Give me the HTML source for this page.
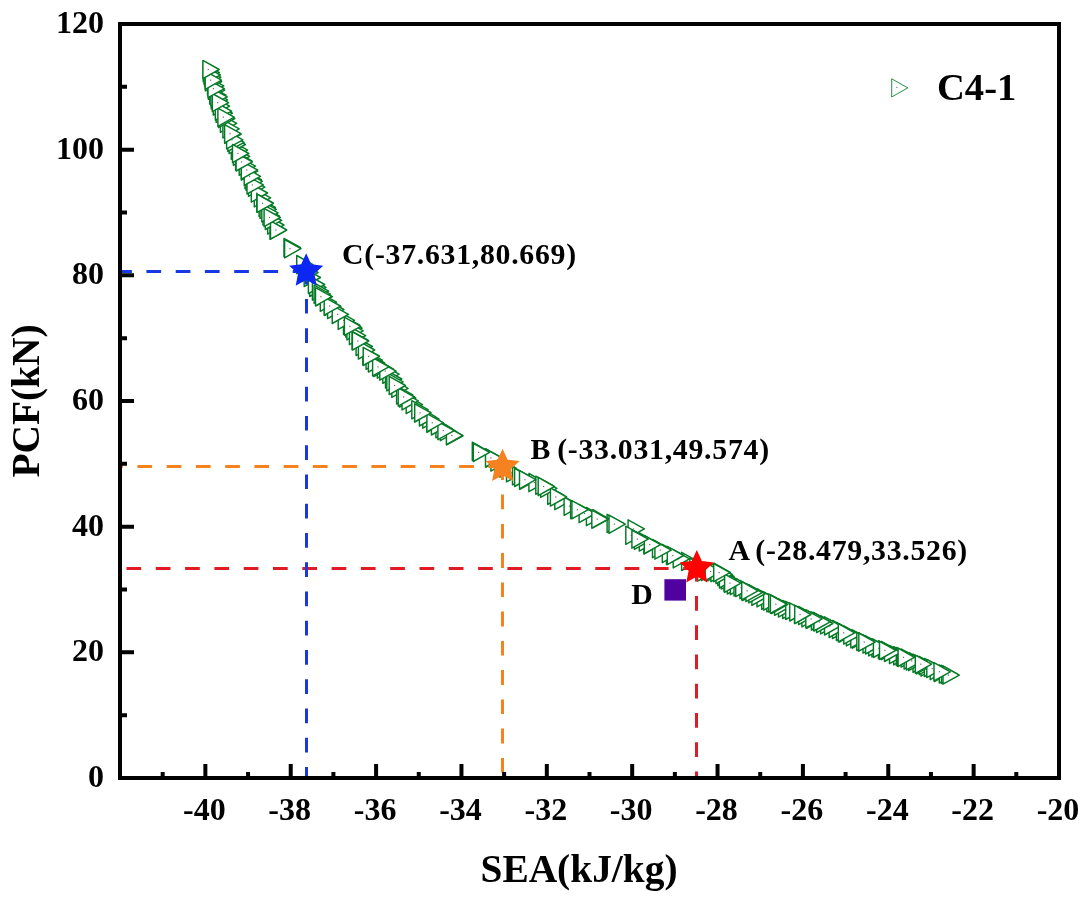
<!DOCTYPE html>
<html><head><meta charset="utf-8"><title>Pareto front C4-1</title>
<style>
html,body{margin:0;padding:0;background:#fff;}
body{width:1087px;height:900px;overflow:hidden;}
svg{display:block;opacity:0.999;will-change:transform;}
text{font-family:"Liberation Serif",serif;font-weight:bold;fill:#000;}
.t{font-size:32px;}
.a{font-size:39.4px;}
.l{font-size:29.8px;letter-spacing:0.72px;word-spacing:-2px;}
</style></head><body>
<svg width="1087" height="900" viewBox="0 0 1087 900">
<rect width="1087" height="900" fill="#fff"/>
<g fill="#fff" stroke="#057a26" stroke-width="1.45" stroke-linejoin="round"><path d="M248.5 178.1L264.8 187.2L248.5 196.3Z"/><rect x="253.3" y="186.6" width="1.2" height="1.2" fill="#6b6b6b" stroke="none"/><path d="M366.1 351.1L382.4 360.2L366.1 369.3Z"/><rect x="370.9" y="359.6" width="1.2" height="1.2" fill="#6b6b6b" stroke="none"/><path d="M263.0 206.9L279.3 216.0L263.0 225.1Z"/><rect x="267.8" y="215.4" width="1.2" height="1.2" fill="#6b6b6b" stroke="none"/><path d="M259.1 198.2L275.4 207.3L259.1 216.4Z"/><rect x="263.9" y="206.7" width="1.2" height="1.2" fill="#6b6b6b" stroke="none"/><path d="M727.3 575.8L743.6 584.9L727.3 594.0Z"/><rect x="732.1" y="584.3" width="1.2" height="1.2" fill="#6b6b6b" stroke="none"/><path d="M893.7 646.7L910.0 655.8L893.7 664.9Z"/><rect x="898.5" y="655.2" width="1.2" height="1.2" fill="#6b6b6b" stroke="none"/><path d="M391.8 379.2L408.1 388.3L391.8 397.4Z"/><rect x="396.6" y="387.7" width="1.2" height="1.2" fill="#6b6b6b" stroke="none"/><path d="M519.8 471.2L536.1 480.3L519.8 489.4Z"/><rect x="524.6" y="479.7" width="1.2" height="1.2" fill="#6b6b6b" stroke="none"/><path d="M889.5 645.5L905.8 654.6L889.5 663.7Z"/><rect x="894.3" y="654.0" width="1.2" height="1.2" fill="#6b6b6b" stroke="none"/><path d="M499.9 459.0L516.2 468.1L499.9 477.2Z"/><rect x="504.7" y="467.5" width="1.2" height="1.2" fill="#6b6b6b" stroke="none"/><path d="M309.7 278.3L326.0 287.4L309.7 296.5Z"/><rect x="314.5" y="286.8" width="1.2" height="1.2" fill="#6b6b6b" stroke="none"/><path d="M368.4 353.9L384.7 363.0L368.4 372.1Z"/><rect x="373.2" y="362.4" width="1.2" height="1.2" fill="#6b6b6b" stroke="none"/><path d="M472.3 442.2L488.6 451.3L472.3 460.4Z"/><rect x="477.1" y="450.7" width="1.2" height="1.2" fill="#6b6b6b" stroke="none"/><path d="M628.1 519.8L644.4 528.9L628.1 538.0Z"/><rect x="632.9" y="528.3" width="1.2" height="1.2" fill="#6b6b6b" stroke="none"/><path d="M913.0 654.1L929.3 663.2L913.0 672.3Z"/><rect x="917.8" y="662.6" width="1.2" height="1.2" fill="#6b6b6b" stroke="none"/><path d="M506.5 463.7L522.8 472.8L506.5 481.9Z"/><rect x="511.3" y="472.2" width="1.2" height="1.2" fill="#6b6b6b" stroke="none"/><path d="M863.0 634.9L879.3 644.0L863.0 653.1Z"/><rect x="867.8" y="643.4" width="1.2" height="1.2" fill="#6b6b6b" stroke="none"/><path d="M528.9 473.5L545.2 482.6L528.9 491.7Z"/><rect x="533.7" y="482.0" width="1.2" height="1.2" fill="#6b6b6b" stroke="none"/><path d="M324.5 297.3L340.8 306.4L324.5 315.5Z"/><rect x="329.3" y="305.8" width="1.2" height="1.2" fill="#6b6b6b" stroke="none"/><path d="M643.9 535.8L660.2 544.9L643.9 554.0Z"/><rect x="648.7" y="544.3" width="1.2" height="1.2" fill="#6b6b6b" stroke="none"/><path d="M260.0 200.2L276.3 209.3L260.0 218.4Z"/><rect x="264.8" y="208.7" width="1.2" height="1.2" fill="#6b6b6b" stroke="none"/><path d="M547.7 486.2L564.0 495.3L547.7 504.4Z"/><rect x="552.5" y="494.7" width="1.2" height="1.2" fill="#6b6b6b" stroke="none"/><path d="M382.8 365.1L399.1 374.2L382.8 383.3Z"/><rect x="387.6" y="373.6" width="1.2" height="1.2" fill="#6b6b6b" stroke="none"/><path d="M896.3 647.4L912.6 656.5L896.3 665.6Z"/><rect x="901.1" y="655.9" width="1.2" height="1.2" fill="#6b6b6b" stroke="none"/><path d="M881.4 641.5L897.7 650.6L881.4 659.7Z"/><rect x="886.2" y="650.0" width="1.2" height="1.2" fill="#6b6b6b" stroke="none"/><path d="M554.8 491.5L571.1 500.6L554.8 509.7Z"/><rect x="559.6" y="500.0" width="1.2" height="1.2" fill="#6b6b6b" stroke="none"/><path d="M233.4 147.2L249.7 156.3L233.4 165.4Z"/><rect x="238.2" y="155.7" width="1.2" height="1.2" fill="#6b6b6b" stroke="none"/><path d="M782.7 600.4L799.0 609.5L782.7 618.6Z"/><rect x="787.5" y="608.9" width="1.2" height="1.2" fill="#6b6b6b" stroke="none"/><path d="M652.5 539.5L668.8 548.6L652.5 557.7Z"/><rect x="657.3" y="548.0" width="1.2" height="1.2" fill="#6b6b6b" stroke="none"/><path d="M512.5 466.7L528.8 475.8L512.5 484.9Z"/><rect x="517.3" y="475.2" width="1.2" height="1.2" fill="#6b6b6b" stroke="none"/><path d="M304.2 268.4L320.5 277.5L304.2 286.6Z"/><rect x="309.0" y="276.9" width="1.2" height="1.2" fill="#6b6b6b" stroke="none"/><path d="M878.4 640.6L894.7 649.7L878.4 658.8Z"/><rect x="883.2" y="649.1" width="1.2" height="1.2" fill="#6b6b6b" stroke="none"/><path d="M422.8 410.0L439.1 419.1L422.8 428.2Z"/><rect x="427.6" y="418.5" width="1.2" height="1.2" fill="#6b6b6b" stroke="none"/><path d="M231.3 141.1L247.6 150.2L231.3 159.3Z"/><rect x="236.1" y="149.6" width="1.2" height="1.2" fill="#6b6b6b" stroke="none"/><path d="M681.6 552.3L697.9 561.4L681.6 570.5Z"/><rect x="686.4" y="560.8" width="1.2" height="1.2" fill="#6b6b6b" stroke="none"/><path d="M625.8 526.2L642.1 535.3L625.8 544.4Z"/><rect x="630.6" y="534.7" width="1.2" height="1.2" fill="#6b6b6b" stroke="none"/><path d="M343.5 316.1L359.8 325.2L343.5 334.3Z"/><rect x="348.3" y="324.6" width="1.2" height="1.2" fill="#6b6b6b" stroke="none"/><path d="M298.6 258.6L314.9 267.7L298.6 276.8Z"/><rect x="303.4" y="267.1" width="1.2" height="1.2" fill="#6b6b6b" stroke="none"/><path d="M901.1 649.0L917.4 658.1L901.1 667.2Z"/><rect x="905.9" y="657.5" width="1.2" height="1.2" fill="#6b6b6b" stroke="none"/><path d="M254.3 188.7L270.6 197.8L254.3 206.9Z"/><rect x="259.1" y="197.2" width="1.2" height="1.2" fill="#6b6b6b" stroke="none"/><path d="M385.5 369.9L401.8 379.0L385.5 388.1Z"/><rect x="390.3" y="378.4" width="1.2" height="1.2" fill="#6b6b6b" stroke="none"/><path d="M211.2 90.8L227.5 99.9L211.2 109.0Z"/><rect x="216.0" y="99.3" width="1.2" height="1.2" fill="#6b6b6b" stroke="none"/><path d="M251.3 183.9L267.6 193.0L251.3 202.1Z"/><rect x="256.1" y="192.4" width="1.2" height="1.2" fill="#6b6b6b" stroke="none"/><path d="M540.6 479.2L556.9 488.3L540.6 497.4Z"/><rect x="545.4" y="487.7" width="1.2" height="1.2" fill="#6b6b6b" stroke="none"/><path d="M308.4 275.4L324.7 284.5L308.4 293.6Z"/><rect x="313.2" y="283.9" width="1.2" height="1.2" fill="#6b6b6b" stroke="none"/><path d="M386.8 372.7L403.1 381.8L386.8 390.9Z"/><rect x="391.6" y="381.2" width="1.2" height="1.2" fill="#6b6b6b" stroke="none"/><path d="M673.2 549.7L689.5 558.8L673.2 567.9Z"/><rect x="678.0" y="558.2" width="1.2" height="1.2" fill="#6b6b6b" stroke="none"/><path d="M871.9 638.7L888.2 647.8L871.9 656.9Z"/><rect x="876.7" y="647.2" width="1.2" height="1.2" fill="#6b6b6b" stroke="none"/><path d="M739.9 580.5L756.2 589.6L739.9 598.7Z"/><rect x="744.7" y="589.0" width="1.2" height="1.2" fill="#6b6b6b" stroke="none"/><path d="M868.7 637.7L885.0 646.8L868.7 655.9Z"/><rect x="873.5" y="646.2" width="1.2" height="1.2" fill="#6b6b6b" stroke="none"/><path d="M267.7 215.9L284.0 225.0L267.7 234.1Z"/><rect x="272.5" y="224.4" width="1.2" height="1.2" fill="#6b6b6b" stroke="none"/><path d="M220.4 114.2L236.7 123.3L220.4 132.4Z"/><rect x="225.2" y="122.7" width="1.2" height="1.2" fill="#6b6b6b" stroke="none"/><path d="M377.3 360.0L393.6 369.1L377.3 378.2Z"/><rect x="382.1" y="368.5" width="1.2" height="1.2" fill="#6b6b6b" stroke="none"/><path d="M338.2 311.2L354.5 320.3L338.2 329.4Z"/><rect x="343.0" y="319.7" width="1.2" height="1.2" fill="#6b6b6b" stroke="none"/><path d="M207.5 76.8L223.8 85.9L207.5 95.0Z"/><rect x="212.3" y="85.3" width="1.2" height="1.2" fill="#6b6b6b" stroke="none"/><path d="M440.3 422.5L456.6 431.6L440.3 440.7Z"/><rect x="445.1" y="431.0" width="1.2" height="1.2" fill="#6b6b6b" stroke="none"/><path d="M839.4 623.8L855.7 632.9L839.4 642.0Z"/><rect x="844.2" y="632.3" width="1.2" height="1.2" fill="#6b6b6b" stroke="none"/><path d="M414.6 403.6L430.9 412.7L414.6 421.8Z"/><rect x="419.4" y="412.1" width="1.2" height="1.2" fill="#6b6b6b" stroke="none"/><path d="M778.5 598.9L794.8 608.0L778.5 617.1Z"/><rect x="783.3" y="607.4" width="1.2" height="1.2" fill="#6b6b6b" stroke="none"/><path d="M766.8 593.6L783.1 602.7L766.8 611.8Z"/><rect x="771.6" y="602.1" width="1.2" height="1.2" fill="#6b6b6b" stroke="none"/><path d="M426.9 414.1L443.2 423.2L426.9 432.3Z"/><rect x="431.7" y="422.6" width="1.2" height="1.2" fill="#6b6b6b" stroke="none"/><path d="M742.5 582.4L758.8 591.5L742.5 600.6Z"/><rect x="747.3" y="590.9" width="1.2" height="1.2" fill="#6b6b6b" stroke="none"/><path d="M435.9 419.6L452.2 428.7L435.9 437.8Z"/><rect x="440.7" y="428.1" width="1.2" height="1.2" fill="#6b6b6b" stroke="none"/><path d="M345.8 319.0L362.1 328.1L345.8 337.2Z"/><rect x="350.6" y="327.5" width="1.2" height="1.2" fill="#6b6b6b" stroke="none"/><path d="M806.7 610.1L823.0 619.2L806.7 628.3Z"/><rect x="811.5" y="618.6" width="1.2" height="1.2" fill="#6b6b6b" stroke="none"/><path d="M229.1 135.4L245.4 144.5L229.1 153.6Z"/><rect x="233.9" y="143.9" width="1.2" height="1.2" fill="#6b6b6b" stroke="none"/><path d="M208.4 81.1L224.7 90.2L208.4 99.3Z"/><rect x="213.2" y="89.6" width="1.2" height="1.2" fill="#6b6b6b" stroke="none"/><path d="M535.8 476.1L552.1 485.2L535.8 494.3Z"/><rect x="540.6" y="484.6" width="1.2" height="1.2" fill="#6b6b6b" stroke="none"/><path d="M904.1 651.0L920.4 660.1L904.1 669.2Z"/><rect x="908.9" y="659.5" width="1.2" height="1.2" fill="#6b6b6b" stroke="none"/><path d="M897.5 648.1L913.8 657.2L897.5 666.3Z"/><rect x="902.3" y="656.6" width="1.2" height="1.2" fill="#6b6b6b" stroke="none"/><path d="M717.8 567.4L734.1 576.5L717.8 585.6Z"/><rect x="722.6" y="575.9" width="1.2" height="1.2" fill="#6b6b6b" stroke="none"/><path d="M730.4 576.5L746.7 585.6L730.4 594.7Z"/><rect x="735.2" y="585.0" width="1.2" height="1.2" fill="#6b6b6b" stroke="none"/><path d="M270.0 221.1L286.3 230.2L270.0 239.3Z"/><rect x="274.8" y="229.6" width="1.2" height="1.2" fill="#6b6b6b" stroke="none"/><path d="M639.3 532.9L655.6 542.0L639.3 551.1Z"/><rect x="644.1" y="541.4" width="1.2" height="1.2" fill="#6b6b6b" stroke="none"/><path d="M734.0 577.8L750.3 586.9L734.0 596.0Z"/><rect x="738.8" y="586.3" width="1.2" height="1.2" fill="#6b6b6b" stroke="none"/><path d="M921.0 658.0L937.3 667.1L921.0 676.2Z"/><rect x="925.8" y="666.5" width="1.2" height="1.2" fill="#6b6b6b" stroke="none"/><path d="M666.5 546.4L682.8 555.5L666.5 564.6Z"/><rect x="671.3" y="554.9" width="1.2" height="1.2" fill="#6b6b6b" stroke="none"/><path d="M696.3 561.7L712.6 570.8L696.3 579.9Z"/><rect x="701.1" y="570.2" width="1.2" height="1.2" fill="#6b6b6b" stroke="none"/><path d="M222.9 119.7L239.2 128.8L222.9 137.9Z"/><rect x="227.7" y="128.2" width="1.2" height="1.2" fill="#6b6b6b" stroke="none"/><path d="M316.0 287.6L332.3 296.7L316.0 305.8Z"/><rect x="320.8" y="296.1" width="1.2" height="1.2" fill="#6b6b6b" stroke="none"/><path d="M884.5 643.3L900.8 652.4L884.5 661.5Z"/><rect x="889.3" y="651.8" width="1.2" height="1.2" fill="#6b6b6b" stroke="none"/><path d="M919.2 656.5L935.5 665.6L919.2 674.7Z"/><rect x="924.0" y="665.0" width="1.2" height="1.2" fill="#6b6b6b" stroke="none"/><path d="M485.9 448.9L502.2 458.0L485.9 467.1Z"/><rect x="490.7" y="457.4" width="1.2" height="1.2" fill="#6b6b6b" stroke="none"/><path d="M774.6 597.2L790.9 606.3L774.6 615.4Z"/><rect x="779.4" y="605.7" width="1.2" height="1.2" fill="#6b6b6b" stroke="none"/><path d="M346.9 321.7L363.2 330.8L346.9 339.9Z"/><rect x="351.7" y="330.2" width="1.2" height="1.2" fill="#6b6b6b" stroke="none"/><path d="M908.7 652.5L925.0 661.6L908.7 670.7Z"/><rect x="913.5" y="661.0" width="1.2" height="1.2" fill="#6b6b6b" stroke="none"/><path d="M785.7 601.3L802.0 610.4L785.7 619.5Z"/><rect x="790.5" y="609.8" width="1.2" height="1.2" fill="#6b6b6b" stroke="none"/><path d="M724.0 573.4L740.3 582.5L724.0 591.6Z"/><rect x="728.8" y="581.9" width="1.2" height="1.2" fill="#6b6b6b" stroke="none"/><path d="M239.2 157.1L255.5 166.2L239.2 175.3Z"/><rect x="244.0" y="165.6" width="1.2" height="1.2" fill="#6b6b6b" stroke="none"/><path d="M362.8 346.8L379.1 355.9L362.8 365.0Z"/><rect x="367.6" y="355.3" width="1.2" height="1.2" fill="#6b6b6b" stroke="none"/><path d="M811.4 612.0L827.7 621.1L811.4 630.2Z"/><rect x="816.2" y="620.5" width="1.2" height="1.2" fill="#6b6b6b" stroke="none"/><path d="M761.7 591.1L778.0 600.2L761.7 609.3Z"/><rect x="766.5" y="599.6" width="1.2" height="1.2" fill="#6b6b6b" stroke="none"/><path d="M586.4 507.5L602.7 516.6L586.4 525.7Z"/><rect x="591.2" y="516.0" width="1.2" height="1.2" fill="#6b6b6b" stroke="none"/><path d="M218.5 109.4L234.8 118.5L218.5 127.6Z"/><rect x="223.3" y="117.9" width="1.2" height="1.2" fill="#6b6b6b" stroke="none"/><path d="M906.3 651.8L922.6 660.9L906.3 670.0Z"/><rect x="911.1" y="660.3" width="1.2" height="1.2" fill="#6b6b6b" stroke="none"/><path d="M256.8 193.9L273.1 203.0L256.8 212.1Z"/><rect x="261.6" y="202.4" width="1.2" height="1.2" fill="#6b6b6b" stroke="none"/><path d="M801.9 608.7L818.2 617.8L801.9 626.9Z"/><rect x="806.7" y="617.2" width="1.2" height="1.2" fill="#6b6b6b" stroke="none"/><path d="M852.5 630.0L868.8 639.1L852.5 648.2Z"/><rect x="857.3" y="638.5" width="1.2" height="1.2" fill="#6b6b6b" stroke="none"/><path d="M564.1 497.1L580.4 506.2L564.1 515.3Z"/><rect x="568.9" y="505.6" width="1.2" height="1.2" fill="#6b6b6b" stroke="none"/><path d="M327.6 300.4L343.9 309.5L327.6 318.6Z"/><rect x="332.4" y="308.9" width="1.2" height="1.2" fill="#6b6b6b" stroke="none"/><path d="M798.6 606.4L814.9 615.5L798.6 624.6Z"/><rect x="803.4" y="614.9" width="1.2" height="1.2" fill="#6b6b6b" stroke="none"/><path d="M300.6 261.1L316.9 270.2L300.6 279.3Z"/><rect x="305.4" y="269.6" width="1.2" height="1.2" fill="#6b6b6b" stroke="none"/><path d="M284.0 238.4L300.3 247.5L284.0 256.6Z"/><rect x="288.8" y="246.9" width="1.2" height="1.2" fill="#6b6b6b" stroke="none"/><path d="M216.1 104.1L232.4 113.2L216.1 122.3Z"/><rect x="220.9" y="112.6" width="1.2" height="1.2" fill="#6b6b6b" stroke="none"/><path d="M301.8 263.4L318.1 272.5L301.8 281.6Z"/><rect x="306.6" y="271.9" width="1.2" height="1.2" fill="#6b6b6b" stroke="none"/><path d="M261.8 203.8L278.1 212.9L261.8 222.0Z"/><rect x="266.6" y="212.3" width="1.2" height="1.2" fill="#6b6b6b" stroke="none"/><path d="M490.9 452.9L507.2 462.0L490.9 471.1Z"/><rect x="495.7" y="461.4" width="1.2" height="1.2" fill="#6b6b6b" stroke="none"/><path d="M579.1 504.4L595.4 513.5L579.1 522.6Z"/><rect x="583.9" y="512.9" width="1.2" height="1.2" fill="#6b6b6b" stroke="none"/><path d="M245.0 170.5L261.3 179.6L245.0 188.7Z"/><rect x="249.8" y="179.0" width="1.2" height="1.2" fill="#6b6b6b" stroke="none"/><path d="M771.6 595.3L787.9 604.4L771.6 613.5Z"/><rect x="776.4" y="603.8" width="1.2" height="1.2" fill="#6b6b6b" stroke="none"/><path d="M399.5 388.9L415.8 398.0L399.5 407.1Z"/><rect x="404.3" y="397.4" width="1.2" height="1.2" fill="#6b6b6b" stroke="none"/><path d="M865.6 635.8L881.9 644.9L865.6 654.0Z"/><rect x="870.4" y="644.3" width="1.2" height="1.2" fill="#6b6b6b" stroke="none"/><path d="M332.2 305.3L348.5 314.4L332.2 323.5Z"/><rect x="337.0" y="313.8" width="1.2" height="1.2" fill="#6b6b6b" stroke="none"/><path d="M934.4 663.3L950.7 672.4L934.4 681.5Z"/><rect x="939.2" y="671.8" width="1.2" height="1.2" fill="#6b6b6b" stroke="none"/><path d="M514.6 468.3L530.9 477.4L514.6 486.5Z"/><rect x="519.4" y="476.8" width="1.2" height="1.2" fill="#6b6b6b" stroke="none"/><path d="M846.4 627.7L862.7 636.8L846.4 645.9Z"/><rect x="851.2" y="636.2" width="1.2" height="1.2" fill="#6b6b6b" stroke="none"/><path d="M356.1 337.4L372.4 346.5L356.1 355.6Z"/><rect x="360.9" y="345.9" width="1.2" height="1.2" fill="#6b6b6b" stroke="none"/><path d="M209.7 86.0L226.0 95.1L209.7 104.2Z"/><rect x="214.5" y="94.5" width="1.2" height="1.2" fill="#6b6b6b" stroke="none"/><path d="M707.6 562.6L723.9 571.7L707.6 580.8Z"/><rect x="712.4" y="571.1" width="1.2" height="1.2" fill="#6b6b6b" stroke="none"/><path d="M832.5 620.4L848.8 629.5L832.5 638.6Z"/><rect x="837.3" y="628.9" width="1.2" height="1.2" fill="#6b6b6b" stroke="none"/><path d="M246.1 172.3L262.4 181.4L246.1 190.5Z"/><rect x="250.9" y="180.8" width="1.2" height="1.2" fill="#6b6b6b" stroke="none"/><path d="M939.3 664.9L955.6 674.0L939.3 683.1Z"/><rect x="944.1" y="673.4" width="1.2" height="1.2" fill="#6b6b6b" stroke="none"/><path d="M203.2 63.5L219.5 72.6L203.2 81.7Z"/><rect x="208.0" y="72.0" width="1.2" height="1.2" fill="#6b6b6b" stroke="none"/><path d="M495.0 455.8L511.3 464.9L495.0 474.0Z"/><rect x="499.8" y="464.3" width="1.2" height="1.2" fill="#6b6b6b" stroke="none"/><path d="M662.3 544.5L678.6 553.6L662.3 562.7Z"/><rect x="667.1" y="553.0" width="1.2" height="1.2" fill="#6b6b6b" stroke="none"/><path d="M204.6 68.2L220.9 77.3L204.6 86.4Z"/><rect x="209.4" y="76.7" width="1.2" height="1.2" fill="#6b6b6b" stroke="none"/><path d="M721.3 570.9L737.6 580.0L721.3 589.1Z"/><rect x="726.1" y="579.4" width="1.2" height="1.2" fill="#6b6b6b" stroke="none"/><path d="M757.0 588.7L773.3 597.8L757.0 606.9Z"/><rect x="761.8" y="597.2" width="1.2" height="1.2" fill="#6b6b6b" stroke="none"/><path d="M570.6 500.5L586.9 509.6L570.6 518.7Z"/><rect x="575.4" y="509.0" width="1.2" height="1.2" fill="#6b6b6b" stroke="none"/><path d="M406.2 395.5L422.5 404.6L406.2 413.7Z"/><rect x="411.0" y="404.0" width="1.2" height="1.2" fill="#6b6b6b" stroke="none"/><path d="M813.5 612.3L829.8 621.4L813.5 630.5Z"/><rect x="818.3" y="620.8" width="1.2" height="1.2" fill="#6b6b6b" stroke="none"/><path d="M607.1 514.3L623.4 523.4L607.1 532.5Z"/><rect x="611.9" y="522.8" width="1.2" height="1.2" fill="#6b6b6b" stroke="none"/><path d="M247.0 175.8L263.3 184.9L247.0 194.0Z"/><rect x="251.8" y="184.3" width="1.2" height="1.2" fill="#6b6b6b" stroke="none"/><path d="M227.8 133.3L244.1 142.4L227.8 151.5Z"/><rect x="232.6" y="141.8" width="1.2" height="1.2" fill="#6b6b6b" stroke="none"/><path d="M836.4 622.4L852.7 631.5L836.4 640.6Z"/><rect x="841.2" y="630.9" width="1.2" height="1.2" fill="#6b6b6b" stroke="none"/><path d="M402.0 391.7L418.3 400.8L402.0 409.9Z"/><rect x="406.8" y="400.2" width="1.2" height="1.2" fill="#6b6b6b" stroke="none"/><path d="M924.4 658.4L940.7 667.5L924.4 676.6Z"/><rect x="929.2" y="666.9" width="1.2" height="1.2" fill="#6b6b6b" stroke="none"/><path d="M349.4 326.5L365.7 335.6L349.4 344.7Z"/><rect x="354.2" y="335.0" width="1.2" height="1.2" fill="#6b6b6b" stroke="none"/><path d="M431.4 416.8L447.7 425.9L431.4 435.0Z"/><rect x="436.2" y="425.3" width="1.2" height="1.2" fill="#6b6b6b" stroke="none"/><path d="M373.8 358.4L390.1 367.5L373.8 376.6Z"/><rect x="378.6" y="366.9" width="1.2" height="1.2" fill="#6b6b6b" stroke="none"/><path d="M794.5 605.3L810.8 614.4L794.5 623.5Z"/><rect x="799.3" y="613.8" width="1.2" height="1.2" fill="#6b6b6b" stroke="none"/><path d="M634.4 531.1L650.7 540.2L634.4 549.3Z"/><rect x="639.2" y="539.6" width="1.2" height="1.2" fill="#6b6b6b" stroke="none"/><path d="M396.6 385.8L412.9 394.9L396.6 404.0Z"/><rect x="401.4" y="394.3" width="1.2" height="1.2" fill="#6b6b6b" stroke="none"/><path d="M710.9 563.5L727.2 572.6L710.9 581.7Z"/><rect x="715.7" y="572.0" width="1.2" height="1.2" fill="#6b6b6b" stroke="none"/><path d="M235.6 151.7L251.9 160.8L235.6 169.9Z"/><rect x="240.4" y="160.2" width="1.2" height="1.2" fill="#6b6b6b" stroke="none"/><path d="M204.0 65.9L220.3 75.0L204.0 84.1Z"/><rect x="208.8" y="74.4" width="1.2" height="1.2" fill="#6b6b6b" stroke="none"/><path d="M735.7 578.4L752.0 587.5L735.7 596.6Z"/><rect x="740.5" y="586.9" width="1.2" height="1.2" fill="#6b6b6b" stroke="none"/><path d="M411.8 400.6L428.1 409.7L411.8 418.8Z"/><rect x="416.6" y="409.1" width="1.2" height="1.2" fill="#6b6b6b" stroke="none"/><path d="M352.1 331.4L368.4 340.5L352.1 349.6Z"/><rect x="356.9" y="339.9" width="1.2" height="1.2" fill="#6b6b6b" stroke="none"/><path d="M751.9 587.2L768.2 596.3L751.9 605.4Z"/><rect x="756.7" y="595.7" width="1.2" height="1.2" fill="#6b6b6b" stroke="none"/><path d="M320.3 293.1L336.6 302.2L320.3 311.3Z"/><rect x="325.1" y="301.6" width="1.2" height="1.2" fill="#6b6b6b" stroke="none"/><path d="M820.6 615.7L836.9 624.8L820.6 633.9Z"/><rect x="825.4" y="624.2" width="1.2" height="1.2" fill="#6b6b6b" stroke="none"/><path d="M689.8 558.0L706.1 567.1L689.8 576.2Z"/><rect x="694.6" y="566.5" width="1.2" height="1.2" fill="#6b6b6b" stroke="none"/><path d="M446.7 426.7L463.0 435.8L446.7 444.9Z"/><rect x="451.5" y="435.2" width="1.2" height="1.2" fill="#6b6b6b" stroke="none"/><path d="M714.0 563.2L730.3 572.3L714.0 581.4Z"/><rect x="718.8" y="571.7" width="1.2" height="1.2" fill="#6b6b6b" stroke="none"/><path d="M210.9 87.8L227.2 96.9L210.9 106.0Z"/><rect x="215.7" y="96.3" width="1.2" height="1.2" fill="#6b6b6b" stroke="none"/><path d="M829.1 619.3L845.4 628.4L829.1 637.5Z"/><rect x="833.9" y="627.8" width="1.2" height="1.2" fill="#6b6b6b" stroke="none"/><path d="M358.4 340.9L374.7 350.0L358.4 359.1Z"/><rect x="363.2" y="349.4" width="1.2" height="1.2" fill="#6b6b6b" stroke="none"/><path d="M930.2 661.5L946.5 670.6L930.2 679.7Z"/><rect x="935.0" y="670.0" width="1.2" height="1.2" fill="#6b6b6b" stroke="none"/><path d="M213.3 97.0L229.6 106.1L213.3 115.2Z"/><rect x="218.1" y="105.5" width="1.2" height="1.2" fill="#6b6b6b" stroke="none"/><path d="M224.7 125.2L241.0 134.3L224.7 143.4Z"/><rect x="229.5" y="133.7" width="1.2" height="1.2" fill="#6b6b6b" stroke="none"/><path d="M226.6 130.7L242.9 139.8L226.6 148.9Z"/><rect x="231.4" y="139.2" width="1.2" height="1.2" fill="#6b6b6b" stroke="none"/><path d="M763.6 592.0L779.9 601.1L763.6 610.2Z"/><rect x="768.4" y="600.5" width="1.2" height="1.2" fill="#6b6b6b" stroke="none"/><path d="M205.4 72.6L221.7 81.7L205.4 90.8Z"/><rect x="210.2" y="81.1" width="1.2" height="1.2" fill="#6b6b6b" stroke="none"/><path d="M850.8 629.6L867.1 638.7L850.8 647.8Z"/><rect x="855.6" y="638.1" width="1.2" height="1.2" fill="#6b6b6b" stroke="none"/><path d="M296.7 255.5L313.0 264.6L296.7 273.7Z"/><rect x="301.5" y="264.0" width="1.2" height="1.2" fill="#6b6b6b" stroke="none"/><path d="M916.6 655.6L932.9 664.7L916.6 673.8Z"/><rect x="921.4" y="664.1" width="1.2" height="1.2" fill="#6b6b6b" stroke="none"/><path d="M873.4 639.3L889.7 648.4L873.4 657.5Z"/><rect x="878.2" y="647.8" width="1.2" height="1.2" fill="#6b6b6b" stroke="none"/><path d="M941.5 665.3L957.8 674.4L941.5 683.5Z"/><rect x="946.3" y="673.8" width="1.2" height="1.2" fill="#6b6b6b" stroke="none"/><path d="M592.8 509.7L609.1 518.8L592.8 527.9Z"/><rect x="597.6" y="518.2" width="1.2" height="1.2" fill="#6b6b6b" stroke="none"/><path d="M824.5 616.8L840.8 625.9L824.5 635.0Z"/><rect x="829.3" y="625.3" width="1.2" height="1.2" fill="#6b6b6b" stroke="none"/><path d="M215.3 102.0L231.6 111.1L215.3 120.2Z"/><rect x="220.1" y="110.5" width="1.2" height="1.2" fill="#6b6b6b" stroke="none"/><path d="M858.5 632.7L874.8 641.8L858.5 650.9Z"/><rect x="863.3" y="641.2" width="1.2" height="1.2" fill="#6b6b6b" stroke="none"/><path d="M768.7 593.9L785.0 603.0L768.7 612.1Z"/><rect x="773.5" y="602.4" width="1.2" height="1.2" fill="#6b6b6b" stroke="none"/><path d="M241.4 162.0L257.7 171.1L241.4 180.2Z"/><rect x="246.2" y="170.5" width="1.2" height="1.2" fill="#6b6b6b" stroke="none"/><path d="M265.3 211.3L281.6 220.4L265.3 229.5Z"/><rect x="270.1" y="219.8" width="1.2" height="1.2" fill="#6b6b6b" stroke="none"/><path d="M419.4 407.8L435.7 416.9L419.4 426.0Z"/><rect x="424.2" y="416.3" width="1.2" height="1.2" fill="#6b6b6b" stroke="none"/><path d="M701.3 562.3L717.6 571.4L701.3 580.5Z"/><rect x="706.1" y="570.8" width="1.2" height="1.2" fill="#6b6b6b" stroke="none"/><path d="M244.2 167.2L260.5 176.3L244.2 185.4Z"/><rect x="249.0" y="175.7" width="1.2" height="1.2" fill="#6b6b6b" stroke="none"/><path d="M926.8 659.4L943.1 668.5L926.8 677.6Z"/><rect x="931.6" y="667.9" width="1.2" height="1.2" fill="#6b6b6b" stroke="none"/><path d="M843.8 626.0L860.1 635.1L843.8 644.2Z"/><rect x="848.6" y="634.5" width="1.2" height="1.2" fill="#6b6b6b" stroke="none"/><path d="M856.8 632.3L873.1 641.4L856.8 650.5Z"/><rect x="861.6" y="640.8" width="1.2" height="1.2" fill="#6b6b6b" stroke="none"/><path d="M719.4 569.8L735.7 578.9L719.4 588.0Z"/><rect x="724.2" y="578.3" width="1.2" height="1.2" fill="#6b6b6b" stroke="none"/><path d="M748.8 584.7L765.1 593.8L748.8 602.9Z"/><rect x="753.6" y="593.2" width="1.2" height="1.2" fill="#6b6b6b" stroke="none"/><path d="M312.4 282.0L328.7 291.1L312.4 300.2Z"/><rect x="317.2" y="290.5" width="1.2" height="1.2" fill="#6b6b6b" stroke="none"/><path d="M314.1 285.1L330.4 294.2L314.1 303.3Z"/><rect x="318.9" y="293.6" width="1.2" height="1.2" fill="#6b6b6b" stroke="none"/><path d="M816.6 614.4L832.9 623.5L816.6 632.6Z"/><rect x="821.4" y="622.9" width="1.2" height="1.2" fill="#6b6b6b" stroke="none"/><path d="M745.9 583.5L762.2 592.6L745.9 601.7Z"/><rect x="750.7" y="592.0" width="1.2" height="1.2" fill="#6b6b6b" stroke="none"/><path d="M697.6 562.9L713.9 572.0L697.6 581.1Z"/><rect x="702.4" y="571.4" width="1.2" height="1.2" fill="#6b6b6b" stroke="none"/><path d="M716.0 565.4L732.3 574.5L716.0 583.6Z"/><rect x="720.8" y="573.9" width="1.2" height="1.2" fill="#6b6b6b" stroke="none"/><path d="M789.7 602.8L806.0 611.9L789.7 621.0Z"/><rect x="794.5" y="611.3" width="1.2" height="1.2" fill="#6b6b6b" stroke="none"/><path d="M705.2 562.4L721.5 571.5L705.2 580.6Z"/><rect x="710.0" y="570.9" width="1.2" height="1.2" fill="#6b6b6b" stroke="none"/><path d="M943.0 666.0L959.3 675.1L943.0 684.2Z"/><rect x="947.8" y="674.5" width="1.2" height="1.2" fill="#6b6b6b" stroke="none"/><path d="M934.0 662.7L950.3 671.8L934.0 680.9Z"/><rect x="938.8" y="671.2" width="1.2" height="1.2" fill="#6b6b6b" stroke="none"/><path d="M915.3 655.1L931.6 664.2L915.3 673.3Z"/><rect x="920.1" y="663.6" width="1.2" height="1.2" fill="#6b6b6b" stroke="none"/><path d="M898.1 648.2L914.4 657.3L898.1 666.4Z"/><rect x="902.9" y="656.7" width="1.2" height="1.2" fill="#6b6b6b" stroke="none"/><path d="M879.5 641.3L895.8 650.4L879.5 659.5Z"/><rect x="884.3" y="649.8" width="1.2" height="1.2" fill="#6b6b6b" stroke="none"/><path d="M858.8 633.0L875.1 642.1L858.8 651.2Z"/><rect x="863.6" y="641.5" width="1.2" height="1.2" fill="#6b6b6b" stroke="none"/><path d="M838.3 623.7L854.6 632.8L838.3 641.9Z"/><rect x="843.1" y="632.2" width="1.2" height="1.2" fill="#6b6b6b" stroke="none"/><path d="M813.9 612.8L830.2 621.9L813.9 631.0Z"/><rect x="818.7" y="621.3" width="1.2" height="1.2" fill="#6b6b6b" stroke="none"/><path d="M805.8 609.8L822.1 618.9L805.8 628.0Z"/><rect x="810.6" y="618.3" width="1.2" height="1.2" fill="#6b6b6b" stroke="none"/><path d="M794.7 605.4L811.0 614.5L794.7 623.6Z"/><rect x="799.5" y="613.9" width="1.2" height="1.2" fill="#6b6b6b" stroke="none"/><path d="M770.4 595.1L786.7 604.2L770.4 613.3Z"/><rect x="775.2" y="603.6" width="1.2" height="1.2" fill="#6b6b6b" stroke="none"/><path d="M741.7 581.7L758.0 590.8L741.7 599.9Z"/><rect x="746.5" y="590.2" width="1.2" height="1.2" fill="#6b6b6b" stroke="none"/><path d="M724.6 574.1L740.9 583.2L724.6 592.3Z"/><rect x="729.4" y="582.6" width="1.2" height="1.2" fill="#6b6b6b" stroke="none"/><path d="M713.7 563.5L730.0 572.6L713.7 581.7Z"/><rect x="718.5" y="572.0" width="1.2" height="1.2" fill="#6b6b6b" stroke="none"/><path d="M667.3 546.4L683.6 555.5L667.3 564.6Z"/><rect x="672.1" y="554.9" width="1.2" height="1.2" fill="#6b6b6b" stroke="none"/><path d="M654.9 541.0L671.2 550.1L654.9 559.2Z"/><rect x="659.7" y="549.5" width="1.2" height="1.2" fill="#6b6b6b" stroke="none"/><path d="M644.3 535.5L660.6 544.6L644.3 553.7Z"/><rect x="649.1" y="544.0" width="1.2" height="1.2" fill="#6b6b6b" stroke="none"/><path d="M631.9 530.0L648.2 539.1L631.9 548.2Z"/><rect x="636.7" y="538.5" width="1.2" height="1.2" fill="#6b6b6b" stroke="none"/><path d="M609.0 515.1L625.3 524.2L609.0 533.3Z"/><rect x="613.8" y="523.6" width="1.2" height="1.2" fill="#6b6b6b" stroke="none"/><path d="M591.8 510.0L608.1 519.1L591.8 528.2Z"/><rect x="596.6" y="518.5" width="1.2" height="1.2" fill="#6b6b6b" stroke="none"/><path d="M571.9 500.6L588.2 509.7L571.9 518.8Z"/><rect x="576.7" y="509.1" width="1.2" height="1.2" fill="#6b6b6b" stroke="none"/><path d="M550.4 487.9L566.7 497.0L550.4 506.1Z"/><rect x="555.2" y="496.4" width="1.2" height="1.2" fill="#6b6b6b" stroke="none"/><path d="M538.2 477.4L554.5 486.5L538.2 495.6Z"/><rect x="543.0" y="485.9" width="1.2" height="1.2" fill="#6b6b6b" stroke="none"/><path d="M519.5 470.6L535.8 479.7L519.5 488.8Z"/><rect x="524.3" y="479.1" width="1.2" height="1.2" fill="#6b6b6b" stroke="none"/><path d="M485.5 448.8L501.8 457.9L485.5 467.0Z"/><rect x="490.3" y="457.3" width="1.2" height="1.2" fill="#6b6b6b" stroke="none"/><path d="M473.3 443.3L489.6 452.4L473.3 461.5Z"/><rect x="478.1" y="451.8" width="1.2" height="1.2" fill="#6b6b6b" stroke="none"/><path d="M446.4 426.4L462.7 435.5L446.4 444.6Z"/><rect x="451.2" y="434.9" width="1.2" height="1.2" fill="#6b6b6b" stroke="none"/><path d="M437.9 421.5L454.2 430.6L437.9 439.7Z"/><rect x="442.7" y="430.0" width="1.2" height="1.2" fill="#6b6b6b" stroke="none"/><path d="M426.9 413.6L443.2 422.7L426.9 431.8Z"/><rect x="431.7" y="422.1" width="1.2" height="1.2" fill="#6b6b6b" stroke="none"/><path d="M414.7 403.8L431.0 412.9L414.7 422.0Z"/><rect x="419.5" y="412.3" width="1.2" height="1.2" fill="#6b6b6b" stroke="none"/><path d="M398.2 387.9L414.5 397.0L398.2 406.1Z"/><rect x="403.0" y="396.4" width="1.2" height="1.2" fill="#6b6b6b" stroke="none"/><path d="M389.2 376.4L405.5 385.5L389.2 394.6Z"/><rect x="394.0" y="384.9" width="1.2" height="1.2" fill="#6b6b6b" stroke="none"/><path d="M379.8 362.0L396.1 371.1L379.8 380.2Z"/><rect x="384.6" y="370.5" width="1.2" height="1.2" fill="#6b6b6b" stroke="none"/><path d="M372.6 357.7L388.9 366.8L372.6 375.9Z"/><rect x="377.4" y="366.2" width="1.2" height="1.2" fill="#6b6b6b" stroke="none"/><path d="M363.2 347.3L379.5 356.4L363.2 365.5Z"/><rect x="368.0" y="355.8" width="1.2" height="1.2" fill="#6b6b6b" stroke="none"/><path d="M352.4 331.9L368.7 341.0L352.4 350.1Z"/><rect x="357.2" y="340.4" width="1.2" height="1.2" fill="#6b6b6b" stroke="none"/><path d="M344.4 317.2L360.7 326.3L344.4 335.4Z"/><rect x="349.2" y="325.7" width="1.2" height="1.2" fill="#6b6b6b" stroke="none"/><path d="M324.2 297.0L340.5 306.1L324.2 315.2Z"/><rect x="329.0" y="305.5" width="1.2" height="1.2" fill="#6b6b6b" stroke="none"/><path d="M315.5 287.6L331.8 296.7L315.5 305.8Z"/><rect x="320.3" y="296.1" width="1.2" height="1.2" fill="#6b6b6b" stroke="none"/><path d="M284.6 239.6L300.9 248.7L284.6 257.8Z"/><rect x="289.4" y="248.1" width="1.2" height="1.2" fill="#6b6b6b" stroke="none"/><path d="M270.5 220.9L286.8 230.0L270.5 239.1Z"/><rect x="275.3" y="229.4" width="1.2" height="1.2" fill="#6b6b6b" stroke="none"/><path d="M264.1 208.4L280.4 217.5L264.1 226.6Z"/><rect x="268.9" y="216.9" width="1.2" height="1.2" fill="#6b6b6b" stroke="none"/><path d="M257.1 194.2L273.4 203.3L257.1 212.4Z"/><rect x="261.9" y="202.7" width="1.2" height="1.2" fill="#6b6b6b" stroke="none"/><path d="M241.3 160.9L257.6 170.0L241.3 179.1Z"/><rect x="246.1" y="169.4" width="1.2" height="1.2" fill="#6b6b6b" stroke="none"/><path d="M236.1 152.8L252.4 161.9L236.1 171.0Z"/><rect x="240.9" y="161.3" width="1.2" height="1.2" fill="#6b6b6b" stroke="none"/><path d="M232.5 144.4L248.8 153.5L232.5 162.6Z"/><rect x="237.3" y="152.9" width="1.2" height="1.2" fill="#6b6b6b" stroke="none"/><path d="M224.6 124.6L240.9 133.7L224.6 142.8Z"/><rect x="229.4" y="133.1" width="1.2" height="1.2" fill="#6b6b6b" stroke="none"/><path d="M217.9 108.1L234.2 117.2L217.9 126.3Z"/><rect x="222.7" y="116.6" width="1.2" height="1.2" fill="#6b6b6b" stroke="none"/><path d="M212.3 93.5L228.6 102.6L212.3 111.7Z"/><rect x="217.1" y="102.0" width="1.2" height="1.2" fill="#6b6b6b" stroke="none"/><path d="M208.0 79.5L224.3 88.6L208.0 97.7Z"/><rect x="212.8" y="88.0" width="1.2" height="1.2" fill="#6b6b6b" stroke="none"/><path d="M205.2 71.1L221.5 80.2L205.2 89.3Z"/><rect x="210.0" y="79.6" width="1.2" height="1.2" fill="#6b6b6b" stroke="none"/><path d="M202.9 60.4L219.2 69.5L202.9 78.6Z"/><rect x="207.7" y="68.9" width="1.2" height="1.2" fill="#6b6b6b" stroke="none"/></g>
<path d="M126.5 568.5H141.2M155.8 568.5H170.5M185.1 568.5H199.8M214.4 568.5H229.1M243.7 568.5H258.4M273.0 568.5H287.7M302.3 568.5H317.0M331.6 568.5H346.3M360.9 568.5H375.6M390.2 568.5H404.9M419.5 568.5H434.2M448.8 568.5H463.5M478.1 568.5H492.8M507.4 568.5H522.1M536.7 568.5H551.4M566.0 568.5H580.7M595.3 568.5H610.0M624.6 568.5H639.3M653.9 568.5H668.6M683.2 568.5H697.1" stroke="#e01b24" stroke-width="3" fill="none"/>
<path d="M696.5 566.7V581.4M696.5 596.0V610.7M696.5 625.2V639.9M696.5 654.5V669.2M696.5 683.7V698.4M696.5 713.0V727.7M696.5 742.2V756.9M696.5 771.5V777.0" stroke="#e01b24" stroke-width="3" fill="none"/>
<path d="M120.0 466.5H122.9M137.4 466.5H152.1M166.7 466.5H181.4M195.9 466.5H210.6M225.2 466.5H239.9M254.4 466.5H269.1M283.7 466.5H298.4M312.9 466.5H327.6M342.2 466.5H356.9M371.4 466.5H386.1M400.7 466.5H415.4M429.9 466.5H444.6M459.2 466.5H473.9M488.4 466.5H502.8" stroke="#f5821f" stroke-width="3" fill="none"/>
<path d="M502.5 465.4V480.1M502.5 494.6V509.3M502.5 523.9V538.6M502.5 553.1V567.9M502.5 582.4V597.1M502.5 611.6V626.4M502.5 640.9V655.6M502.5 670.1V684.9M502.5 699.4V714.1M502.5 728.6V743.4M502.5 757.9V772.6" stroke="#f5821f" stroke-width="3" fill="none"/>
<path d="M120.0 271.5H131.9M146.4 271.5H161.1M175.7 271.5H190.4M204.9 271.5H219.6M234.2 271.5H248.9M263.4 271.5H278.1M292.7 271.5H306.5" stroke="#1838e4" stroke-width="3" fill="none"/>
<path d="M306.5 269.7V284.4M306.5 298.9V313.6M306.5 328.2V342.9M306.5 357.4V372.1M306.5 386.7V401.4M306.5 415.9V430.6M306.5 445.2V459.9M306.5 474.4V489.1M306.5 503.7V518.4M306.5 533.0V547.7M306.5 562.2V576.9M306.5 591.5V606.2M306.5 620.7V635.4M306.5 650.0V664.7M306.5 679.2V693.9M306.5 708.5V723.2M306.5 737.7V752.4M306.5 767.0V777.0" stroke="#1838e4" stroke-width="3" fill="none"/>
<polygon points="306.20,253.30 311.25,264.25 323.22,265.67 314.37,273.86 316.72,285.68 306.20,279.79 295.68,285.68 298.03,273.86 289.18,265.67 301.15,264.25" fill="#0c27f2"/>
<polygon points="502.60,448.70 507.65,459.65 519.62,461.07 510.77,469.26 513.12,481.08 502.60,475.19 492.08,481.08 494.43,469.26 485.58,461.07 497.55,459.65" fill="#f5821f"/>
<polygon points="696.80,550.10 701.85,561.05 713.82,562.47 704.97,570.66 707.32,582.48 696.80,576.59 686.28,582.48 688.63,570.66 679.78,562.47 691.75,561.05" fill="#ff0000"/>
<rect x="664.4" y="579.2" width="21.6" height="21.4" fill="#50009f"/>
<rect x="120.0" y="24.0" width="939.0" height="754.0" fill="none" stroke="#000" stroke-width="4"/>
<path d="M162.68 776V772M205.36 776V764M248.05 776V772M290.73 776V764M333.41 776V772M376.09 776V764M418.77 776V772M461.45 776V764M504.14 776V772M546.82 776V764M589.50 776V772M632.18 776V764M674.86 776V772M717.55 776V764M760.23 776V772M802.91 776V764M845.59 776V772M888.27 776V764M930.95 776V772M973.64 776V764M1016.32 776V772M122 715.17H127M122 652.33H134M122 589.50H127M122 526.67H134M122 463.83H127M122 401.00H134M122 338.17H127M122 275.33H134M122 212.50H127M122 149.67H134M122 86.83H127" stroke="#000" stroke-width="4" fill="none"/>
<text class="t" x="204.4" y="820" text-anchor="middle">-40</text>
<text class="t" x="289.7" y="820" text-anchor="middle">-38</text>
<text class="t" x="375.1" y="820" text-anchor="middle">-36</text>
<text class="t" x="460.5" y="820" text-anchor="middle">-34</text>
<text class="t" x="545.8" y="820" text-anchor="middle">-32</text>
<text class="t" x="631.2" y="820" text-anchor="middle">-30</text>
<text class="t" x="716.5" y="820" text-anchor="middle">-28</text>
<text class="t" x="801.9" y="820" text-anchor="middle">-26</text>
<text class="t" x="887.3" y="820" text-anchor="middle">-24</text>
<text class="t" x="972.6" y="820" text-anchor="middle">-22</text>
<text class="t" x="1058.0" y="820" text-anchor="middle">-20</text>
<text class="t" x="104" y="787.0" text-anchor="end">0</text>
<text class="t" x="104" y="661.3" text-anchor="end">20</text>
<text class="t" x="104" y="535.7" text-anchor="end">40</text>
<text class="t" x="104" y="410.0" text-anchor="end">60</text>
<text class="t" x="104" y="284.3" text-anchor="end">80</text>
<text class="t" x="104" y="158.7" text-anchor="end">100</text>
<text class="t" x="104" y="33.0" text-anchor="end">120</text>
<text class="a" x="579" y="882" text-anchor="middle">SEA(kJ/kg)</text>
<text class="a" transform="translate(38.8,401) rotate(-90)" text-anchor="middle">PCF(kN)</text>
<text class="l" x="342" y="264.4">C(-37.631,80.669)</text>
<text class="l" x="530.4" y="458.7">B (-33.031,49.574)</text>
<text class="l" x="728.6" y="560.0">A (-28.479,33.526)</text>
<text class="l" x="631.3" y="604.2">D</text>
<path d="M891.7 78.8L907.8 87.9L891.7 97Z" fill="none" stroke="#057a26" stroke-width="1" opacity="0.85"/>
<rect x="896.3" y="86.8" width="1.1" height="1.1" fill="#3b4a3b" opacity="0.8"/>
<text x="937" y="99.6" style="font-size:38.6px">C4-1</text>
</svg></body></html>
